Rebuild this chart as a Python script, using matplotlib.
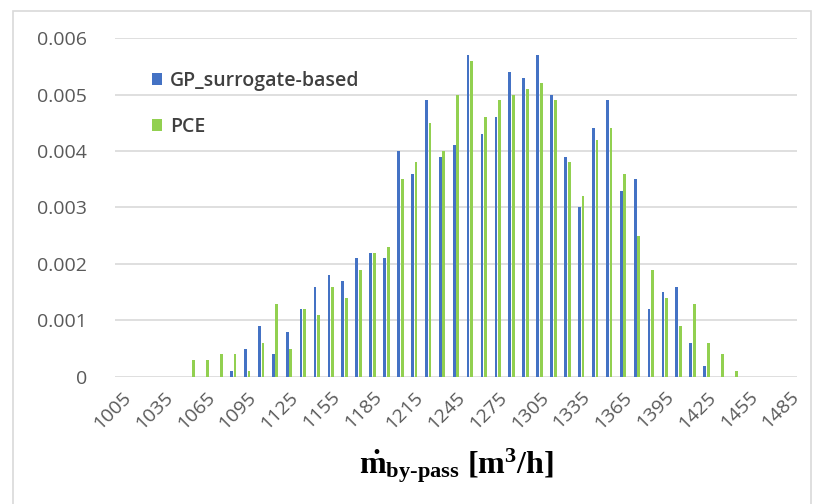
import numpy as np
import matplotlib
matplotlib.use("Agg")
import matplotlib.pyplot as plt
from matplotlib.patches import Rectangle

plt.rcParams["font.family"] = ["Open Sans", "DejaVu Sans"]
plt.rcParams["mathtext.fontset"] = "custom"
plt.rcParams["mathtext.rm"] = "Liberation Serif"
plt.rcParams["mathtext.bf"] = "Liberation Serif:bold"
plt.rcParams["mathtext.it"] = "Liberation Serif:italic"

# bin centres of the mass flow histogram [m3/h]
bins = [1005, 1015, 1025, 1035, 1045, 1055, 1065, 1075, 1085, 1095,
        1105, 1115, 1125, 1135, 1145, 1155, 1165, 1175, 1185, 1195,
        1205, 1215, 1225, 1235, 1245, 1255, 1265, 1275, 1285, 1295,
        1305, 1315, 1325, 1335, 1345, 1355, 1365, 1375, 1385, 1395,
        1405, 1415, 1425, 1435, 1445, 1455, 1465, 1475, 1485]

gp = [0, 0, 0, 0, 0, 0, 0, 0, 0.0001, 0.0005,
      0.0009, 0.0004, 0.0008, 0.0012, 0.0016, 0.0018, 0.0017, 0.0021, 0.0022, 0.0021,
      0.0040, 0.0036, 0.0049, 0.0039, 0.0041, 0.0057, 0.0043, 0.0046, 0.0054, 0.0053,
      0.0057, 0.0050, 0.0039, 0.0030, 0.0044, 0.0049, 0.0033, 0.0035, 0.0012, 0.0015,
      0.0016, 0.0006, 0.0002, 0, 0, 0, 0, 0, 0]

pce = [0, 0, 0, 0, 0, 0.0003, 0.0003, 0.0004, 0.0004, 0.0001,
       0.0006, 0.0013, 0.0005, 0.0012, 0.0011, 0.0016, 0.0014, 0.0019, 0.0022, 0.0023,
       0.0035, 0.0038, 0.0045, 0.0040, 0.0050, 0.0056, 0.0046, 0.0049, 0.0050, 0.0051,
       0.0052, 0.0049, 0.0038, 0.0032, 0.0042, 0.0044, 0.0036, 0.0025, 0.0019, 0.0014,
       0.0009, 0.0013, 0.0006, 0.0004, 0.0001, 0, 0, 0, 0]

yticks = [0, 0.001, 0.002, 0.003, 0.004, 0.005, 0.006]
ylabels = ["0", "0.001", "0.002", "0.003", "0.004", "0.005", "0.006"]

blue = "#4472C4"
green = "#92D050"

fig = plt.figure(figsize=(8.23, 5.04), dpi=100)
ax = fig.add_axes([0.1397, 0.252, 0.8287, 0.6726])

x = np.arange(len(bins))
w = 0.2
ax.bar(x - 0.13, gp, width=w, color=blue, label="GP_surrogate-based", zorder=3)
ax.bar(x + 0.13, pce, width=w, color=green, label="PCE", zorder=3)

ax.set_xlim(-0.5, len(bins) - 0.5)
ax.set_ylim(0, 0.006)
ax.set_yticks(yticks)
ax.set_yticklabels(ylabels)
ax.yaxis.grid(True, color="#D9D9D9", linewidth=1.2)
ax.set_axisbelow(True)

ax.set_xticks(x[::3])
ax.set_xticklabels([str(b) for b in bins[::3]], rotation=45, ha="right",
                   rotation_mode="anchor")
ax.tick_params(axis="y", length=0, pad=20, labelsize=14, labelcolor="#595959")
ax.tick_params(axis="x", length=0, pad=8, labelsize=14, labelcolor="#595959")
for s in ax.spines.values():
    s.set_visible(False)

ax.set_xlabel(r"$\mathbf{\dot{m}}_{\mathbf{by\text{-}pass}}$ $\mathbf{[m^3/h]}$",
              fontsize=23, labelpad=10, color="black")

ax.legend(loc="upper left", bbox_to_anchor=(0.028, 0.955), frameon=False,
          prop={"size": 14, "weight": "semibold"},
          handlelength=0.55, handleheight=0.55, handletextpad=0.4,
          labelspacing=1.35, labelcolor="#404040")

fig.patches.append(Rectangle((13 / 823, -0.02), 798 / 823, 1.02 - 11 / 504,
                             transform=fig.transFigure, fill=False,
                             edgecolor="#D9D9D9", linewidth=1.2))

fig.savefig("out.png", dpi=100)
